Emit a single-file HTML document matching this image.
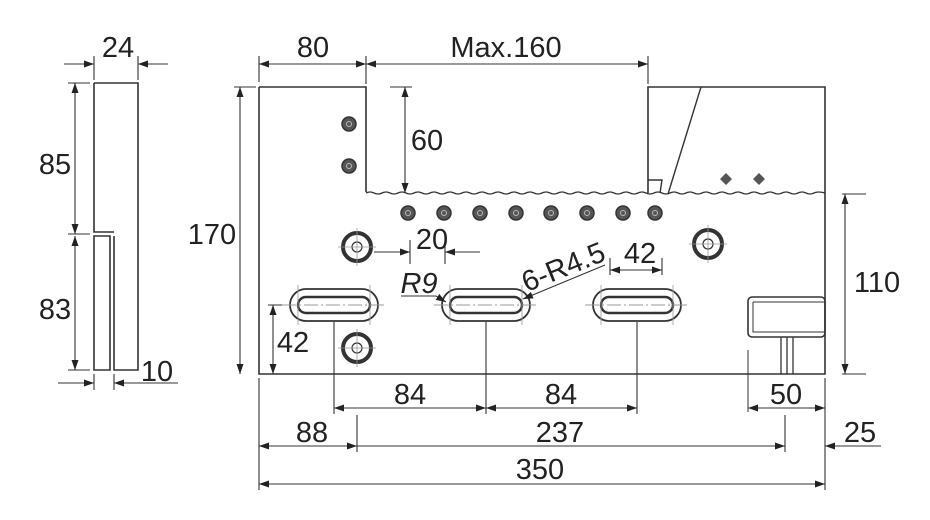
<!DOCTYPE html>
<html><head><meta charset="utf-8"><style>
html,body{margin:0;padding:0;background:#fff;width:930px;height:520px;overflow:hidden}
svg text{font-family:"Liberation Sans",sans-serif;font-size:29px;fill:#222}
</style></head><body>
<svg width="930" height="520" viewBox="0 0 930 520" xmlns="http://www.w3.org/2000/svg">
<defs>
<marker id="a" viewBox="0 0 10 10" refX="10" refY="5" markerWidth="10" markerHeight="10" orient="auto-start-reverse" markerUnits="userSpaceOnUse"><path d="M0,1.5 L10,5 L0,8.5z" fill="#222"/></marker>
<g id="sh"><circle r="7" fill="#555" stroke="#333" stroke-width="1.5"/><circle r="2.5" fill="none" stroke="#bbb" stroke-width="1"/></g>
<g id="bh"><circle r="14" fill="none" stroke="#333" stroke-width="4"/><circle r="5" fill="none" stroke="#333" stroke-width="1.2"/><line x1="-19" y1="0" x2="19" y2="0" stroke="#999" stroke-width="0.8"/><line x1="0" y1="-19" x2="0" y2="19" stroke="#999" stroke-width="0.8"/></g>
<g id="sl"><rect x="-44" y="-16" width="88" height="32" rx="16" fill="none" stroke="#333" stroke-width="1.8"/><rect x="-36" y="-8" width="72" height="16" rx="8" fill="none" stroke="#333" stroke-width="2.5"/><line x1="-52" y1="0" x2="52" y2="0" stroke="#999" stroke-width="1" stroke-dasharray="14,3,2,3"/><line x1="-36" y1="-20" x2="-36" y2="20" stroke="#999" stroke-width="0.8"/><line x1="36" y1="-20" x2="36" y2="20" stroke="#999" stroke-width="0.8"/></g>
</defs>
<g fill="none" stroke="#333" stroke-width="1.6">
<path d="M94,83 H138 V370 H114 V236 M94,83 V232 H114"/>
<path d="M94,236 H110 V370 H94 Z"/>
<path d="M259,87 H366 V192 M259,87 V374 H825 V87 H648 V193"/>
<path d="M366,193 Q370,191 374,193 T382,193 T390,193 T398,193 T406,193 T414,193 T422,193 T430,193 T438,193 T446,193 T454,193 T462,193 T470,193 T478,193 T486,193 T494,193 T502,193 T510,193 T518,193 T526,193 T534,193 T542,193 T550,193 T558,193 T566,193 T574,193 T582,193 T590,193 T598,193 T606,193 T614,193 T622,193 T630,193 T638,193 T646,193 T654,193 T662,193 T670,193 T678,193 T686,193 T694,193 T702,193 T710,193 T718,193 T726,193 T734,193 T742,193 T750,193 T758,193 T766,193 T774,193 T782,193 T790,193 T798,193 T806,193 T814,193 T825,193" stroke-width="1.3"/>
<path d="M648,180 H662 L660,193 M701,87 L668,194" stroke-width="1.4"/>
<rect x="748" y="297" width="77" height="40" rx="4"/>
<path d="M753,302 H825 M753,302 V332 H825" stroke-width="1"/>
<path d="M781,337 V374 M787,337 V374 M793,337 V374" stroke-width="1.3"/>
<line x1="748" y1="350" x2="748" y2="412" stroke-width="1"/>
</g>
<use href="#sh" x="349" y="124"/><use href="#sh" x="349" y="166"/>
<use href="#sh" x="408" y="213"/><use href="#sh" x="444" y="213"/><use href="#sh" x="480" y="213"/><use href="#sh" x="516" y="213"/><use href="#sh" x="551" y="213"/><use href="#sh" x="587" y="213"/><use href="#sh" x="623" y="213"/><use href="#sh" x="655" y="213"/>
<path d="M726,173 L732,179 L726,185 L720,179Z M759,173 L765,179 L759,185 L753,179Z" fill="#555"/>
<use href="#bh" x="357" y="247"/><use href="#bh" x="357" y="348"/><use href="#bh" x="708" y="244"/>
<use href="#sl" x="334" y="305"/><use href="#sl" x="486" y="305"/><use href="#sl" x="637" y="305"/>
<g stroke="#333" stroke-width="1.1" fill="none">
<path d="M94,56 V80 M138,56 V80 M259,56 V82 M366,56 V84 M648,56 V84 M68,83 H90 M68,234 H90 M68,370 H90 M94,374 V390 M114,374 V390 M234,87 H256 M390,87 H412 M842,194 H866 M842,374 H866 M268,305 H282 M410,240 V264 M445,240 V264 M610,258 V275 M662,258 V275 M259,378 V490 M334,322 V414 M486,322 V414 M637,322 V414 M825,378 V490 M357,415 V452 M785,415 V452"/>
<line x1="64" y1="64" x2="94" y2="64" marker-end="url(#a)"/><line x1="168" y1="64" x2="138" y2="64" marker-end="url(#a)"/>
<line x1="75" y1="83" x2="75" y2="234" marker-start="url(#a)" marker-end="url(#a)"/>
<line x1="75" y1="236" x2="75" y2="370" marker-start="url(#a)" marker-end="url(#a)"/>
<line x1="58" y1="383" x2="94" y2="383" marker-end="url(#a)"/><line x1="178" y1="383" x2="114" y2="383" marker-end="url(#a)"/>
<line x1="259" y1="64" x2="366" y2="64" marker-start="url(#a)" marker-end="url(#a)"/>
<line x1="366" y1="64" x2="648" y2="64" marker-start="url(#a)" marker-end="url(#a)"/>
<line x1="240" y1="87" x2="240" y2="374" marker-start="url(#a)" marker-end="url(#a)"/>
<line x1="405" y1="87" x2="405" y2="193" marker-start="url(#a)" marker-end="url(#a)"/>
<line x1="374" y1="252" x2="410" y2="252" marker-end="url(#a)"/><line x1="480" y1="252" x2="445" y2="252" marker-end="url(#a)"/>
<line x1="273" y1="305" x2="273" y2="374" marker-start="url(#a)" marker-end="url(#a)"/>
<line x1="610" y1="270" x2="662" y2="270" marker-start="url(#a)" marker-end="url(#a)"/>
<line x1="845" y1="194" x2="845" y2="374" marker-start="url(#a)" marker-end="url(#a)"/>
<line x1="334" y1="408" x2="486" y2="408" marker-start="url(#a)" marker-end="url(#a)"/>
<line x1="486" y1="408" x2="637" y2="408" marker-start="url(#a)" marker-end="url(#a)"/>
<line x1="748" y1="408" x2="825" y2="408" marker-start="url(#a)" marker-end="url(#a)"/>
<line x1="259" y1="446" x2="357" y2="446" marker-start="url(#a)" marker-end="url(#a)"/>
<line x1="357" y1="446" x2="785" y2="446" marker-end="url(#a)"/>
<line x1="881" y1="446" x2="825" y2="446" marker-end="url(#a)"/>
<line x1="259" y1="484" x2="825" y2="484" marker-start="url(#a)" marker-end="url(#a)"/>
<polyline points="401,296 436,296 446,302" marker-end="url(#a)" fill="none"/>
<line x1="605" y1="265" x2="523" y2="299" marker-end="url(#a)"/>
</g>
<g text-anchor="middle">
<text x="118" y="57">24</text>
<text x="55" y="174">85</text>
<text x="55" y="319">83</text>
<text x="157" y="381">10</text>
<text x="313" y="57">80</text>
<text x="506" y="57">Max.160</text>
<text x="212" y="244">170</text>
<text x="427" y="150">60</text>
<text x="432" y="249">20</text>
<text x="293" y="352">42</text>
<text x="640" y="263">42</text>
<text x="877" y="292">110</text>
<text x="410" y="404">84</text>
<text x="561" y="404">84</text>
<text x="786" y="404">50</text>
<text x="312" y="442">88</text>
<text x="560" y="442">237</text>
<text x="860" y="442">25</text>
<text x="540" y="479">350</text>
<text x="419" y="293" font-size="23" font-style="italic">R9</text>
<text x="567" y="276" font-size="23" transform="rotate(-22 567 276)">6-R4.5</text>
</g>
</svg>
</body></html>
